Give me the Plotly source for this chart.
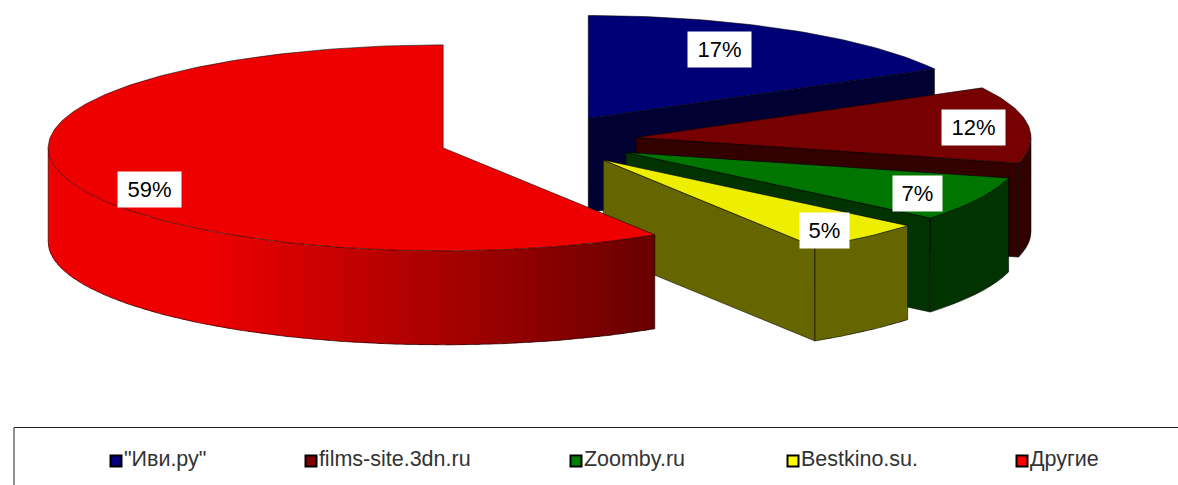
import numpy as np
import plotly.graph_objects as go

names = ['"Иви.ру"', "films-site.3dn.ru", "Zoomby.ru", "Bestkino.su.", "Другие"]
shares = [17, 12, 7, 5, 59]
top_colors = [(0, 0, 118), (119, 0, 0), (0, 118, 0), (238, 238, 0), (238, 0, 0)]
legend_colors = ["#000080", "#800000", "#008000", "#ffff00", "#ff0000"]

# pie layout in page pixels
CX, CY = 538, 140.7
RX, RY = 395, 103
DEPTH = 94
PULL = 0.25
DARK = 0.43

label_x = [719, 973, 917, 824, 149]
label_y = [49, 127, 193, 230, 189]
legend_x = [116, 311, 576, 793, 1022]
LEGEND_Y = 461


def rgb(c, k=1.0):
    return "rgb(%d,%d,%d)" % tuple(round(v * k) for v in c)


def shade(deg):
    # rim brightness goes from dark on the right to full on the left
    s = np.sin(np.radians(deg))
    return DARK + (1 - DARK) * float(np.clip((0.536 - s) / 1.151, 0, 1))


def arc(ax, ay, a0, a1, dz=0, step=1.0):
    n = max(int(abs(a1 - a0) / step), 1) + 1
    t = np.radians(np.linspace(a0, a1, n))
    return ax + RX * np.sin(t), ay - RY * np.cos(t) + dz


def poly(fig, x, y, color):
    fig.add_trace(go.Scatter(
        x=list(x), y=list(y), mode="lines", fill="toself", fillcolor=color,
        line=dict(width=0), hoverinfo="skip", showlegend=False))


def outline(fig, x, y, color="rgba(0,0,0,0.7)", width=0.8):
    fig.add_trace(go.Scatter(
        x=list(x), y=list(y), mode="lines", line=dict(color=color, width=width),
        hoverinfo="skip", showlegend=False))


fig = go.Figure()

start = 0.0
for share, color in zip(shares, top_colors):
    end = start + share * 3.6
    mid = np.radians((start + end) / 2)
    ax = CX + PULL * RX * np.sin(mid)
    ay = CY - PULL * RY * np.cos(mid)

    # cut face on the clockwise end of the slice
    if end < 180:
        ex, ey = arc(ax, ay, end, end)
        ex, ey = ex[0], ey[0]
        poly(fig, [ax, ex, ex, ax, ax], [ay, ey, ey + DEPTH, ay + DEPTH, ay], rgb(color, DARK))
        outline(fig, [ax, ex, ex, ax, ax], [ay, ey, ey + DEPTH, ay + DEPTH, ay])

    # outer rim, only the part that faces the viewer
    r0, r1 = max(start, 90), min(end, 270)
    if r1 > r0:
        if shade(r0) == shade(r1):
            steps = [r0, r1]
        else:
            steps = np.arange(r0, r1, 2.0).tolist() + [r1]
        for a, b in zip(steps[:-1], steps[1:]):
            # each strip overlaps the one before it so no seam shows
            a2 = max(a - 1, r0)
            tx, ty = arc(ax, ay, a2, b, step=0.5)
            bx, by = arc(ax, ay, b, a2, DEPTH, step=0.5)
            poly(fig, np.r_[tx, bx, tx[0]], np.r_[ty, by, ty[0]], rgb(color, shade((a + b) / 2)))
        bx, by = arc(ax, ay, r0, r1, DEPTH)
        outline(fig, bx, by)
        for a in (r0, r1):
            vx, vy = arc(ax, ay, a, a)
            outline(fig, [vx[0], vx[0]], [vy[0], vy[0] + DEPTH])

    # top of the slice
    tx, ty = arc(ax, ay, start, end)
    poly(fig, np.r_[ax, tx, ax], np.r_[ay, ty, ay], rgb(color))
    outline(fig, np.r_[ax, tx, ax], np.r_[ay, ty, ay])

    start = end

for share, x, y in zip(shares, label_x, label_y):
    fig.add_annotation(x=x, y=y, text="%d%%" % share, showarrow=False,
                       bgcolor="white", width=61 if share > 9 else 47, height=33,
                       font=dict(family="Liberation Sans", size=22, color="black"))

fig.add_shape(type="rect", x0=14, y0=427.5, x1=1200, y1=500,
              line=dict(color="#222222", width=1))

for name, col, x in zip(names, legend_colors, legend_x):
    fig.add_trace(go.Scatter(
        x=[x], y=[LEGEND_Y], mode="markers+text", text=[name],
        textposition="middle right",
        textfont=dict(family="Liberation Sans", size=21.5, color="#333333"),
        marker=dict(symbol="square", size=11, color=col, line=dict(color="black", width=2)),
        hoverinfo="skip", showlegend=False))

fig.update_xaxes(range=[0, 1178], visible=False, fixedrange=True)
fig.update_yaxes(range=[485, 0], visible=False, fixedrange=True)
fig.update_layout(width=1178, height=485, margin=dict(l=0, r=0, t=0, b=0),
                  paper_bgcolor="white", plot_bgcolor="white", showlegend=False)
fig.write_html("out.html", config={"displayModeBar": False},
               post_script="document.body.style.margin='0';")
